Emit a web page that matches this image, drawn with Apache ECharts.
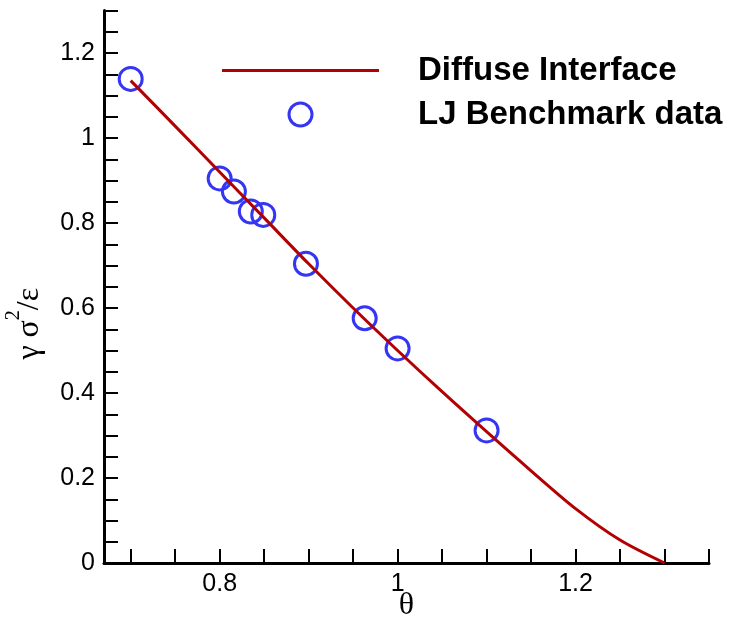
<!DOCTYPE html>
<html>
<head>
<meta charset="utf-8">
<script src="https://cdn.jsdelivr.net/npm/echarts@6/dist/echarts.min.js"></script>
<style>
  html, body { margin: 0; padding: 0; background: #ffffff; }
  #chart { width: 737px; height: 618px; }
</style>
</head>
<body>
<div id="chart"></div>
<script>
// Surface tension vs reduced temperature
const modelTheta = [0.70, 0.75, 0.80, 0.85, 0.90, 0.95, 1.00, 1.05, 1.10, 1.15, 1.20, 1.25, 1.30];
const modelGamma = [1.135, 1.028, 0.920, 0.812, 0.704, 0.600, 0.500, 0.403, 0.309, 0.217, 0.128, 0.054, 0.000];

const ljTheta = [0.70, 0.80, 0.816, 0.835, 0.849, 0.897, 0.963, 1.00, 1.10];
const ljGamma = [1.139, 0.905, 0.874, 0.827, 0.819, 0.704, 0.576, 0.505, 0.312];

const xLabelValues = [0.8, 1.0, 1.2];
const xTickValues = [0.70, 0.75, 0.80, 0.85, 0.90, 0.95, 1.00, 1.05, 1.10, 1.15, 1.20, 1.25, 1.30, 1.35];
const yLabelValues = [0, 0.2, 0.4, 0.6, 0.8, 1.0, 1.2];
const yTickValues = [0, 0.05, 0.10, 0.15, 0.20, 0.25, 0.30, 0.35, 0.40, 0.45, 0.50, 0.55, 0.60,
                     0.65, 0.70, 0.75, 0.80, 0.85, 0.90, 0.95, 1.00, 1.05, 1.10, 1.15, 1.20, 1.25, 1.30];

const seriesNames = ['Diffuse Interface', 'LJ Benchmark data'];

const lineColor = '#b30000';
const dotColor = '#3535f4';

const sans = '"Liberation Sans", Arial, Helvetica, sans-serif';
const serif = '"Liberation Serif", "Times New Roman", serif';

const chart = echarts.init(document.getElementById('chart'), null, { renderer: 'canvas' });

const axisLine = { show: true, onZero: false, lineStyle: { color: '#000', width: 3 } };
const axisTick = { show: true, inside: true, length: 14, lineStyle: { color: '#000', width: 2 } };
const axisLabel = { color: '#000', fontFamily: sans, fontSize: 25 };
const fmt = v => String(Math.round(v * 100) / 100);

chart.setOption({
  backgroundColor: '#ffffff',
  animation: false,
  grid: { left: 104, right: 28, top: 10.5, bottom: 55, containLabel: false, outerBoundsMode: 'none' },
  xAxis: {
    type: 'value',
    min: 0.67,
    max: 1.35,
    name: 'θ',
    nameLocation: 'middle',
    nameGap: 27,
    nameMoveOverlap: false,
    nameTextStyle: { color: '#000', fontFamily: serif, fontSize: 32 },
    axisLine: axisLine,
    axisTick: Object.assign({}, axisTick, { customValues: xTickValues }),
    splitLine: { show: false },
    axisLabel: Object.assign({}, axisLabel, { customValues: xLabelValues, margin: 9, formatter: fmt })
  },
  yAxis: {
    type: 'value',
    min: 0,
    max: 1.3,
    name: '{g|γ σ}{sup|2}{g|/ε}',
    nameLocation: 'middle',
    nameRotate: 90,
    nameGap: 58,
    nameMoveOverlap: false,
    nameTextStyle: {
      color: '#000',
      padding: [0, 74, 0, 0],
      rich: {
        g: { fontFamily: serif, fontSize: 32, color: '#000', verticalAlign: 'bottom' },
        sup: { fontFamily: serif, fontSize: 20, color: '#000', verticalAlign: 'top', padding: [0, 0, 22, 0] }
      }
    },
    axisLine: axisLine,
    axisTick: Object.assign({}, axisTick, { customValues: yTickValues }),
    splitLine: { show: false },
    axisLabel: Object.assign({}, axisLabel, { customValues: yLabelValues, margin: 9, formatter: fmt })
  },
  legend: {
    orient: 'vertical',
    left: 222,
    top: 54,
    padding: 0,
    itemWidth: 157,
    itemHeight: 23,
    itemGap: 11,
    data: [
      {
        name: seriesNames[0],
        icon: 'path://M0,0 L100,0 L100,2 L0,2 Z',
        itemStyle: { color: lineColor, borderWidth: 0 }
      },
      {
        name: seriesNames[1],
        icon: 'circle',
        itemStyle: { color: 'rgba(255,255,255,0)', borderColor: dotColor, borderWidth: 3 }
      }
    ],
    symbolKeepAspect: true,
    textStyle: {
      color: '#000',
      fontFamily: sans,
      fontWeight: 'bold',
      fontSize: 33,
      padding: [0, 0, 0, 34]
    }
  },
  series: [
    {
      name: seriesNames[1],
      type: 'scatter',
      data: ljTheta.map((t, i) => [t, ljGamma[i]]),
      symbol: 'circle',
      symbolSize: 23,
      itemStyle: { color: 'rgba(255,255,255,0)', borderColor: dotColor, borderWidth: 3, opacity: 1 },
      z: 2
    },
    {
      name: seriesNames[0],
      type: 'line',
      data: modelTheta.map((t, i) => [t, modelGamma[i]]),
      symbol: 'none',
      smooth: 0.3,
      lineStyle: { color: lineColor, width: 3 },
      itemStyle: { color: lineColor },
      z: 3
    }
  ]
});
</script>
</body>
</html>
